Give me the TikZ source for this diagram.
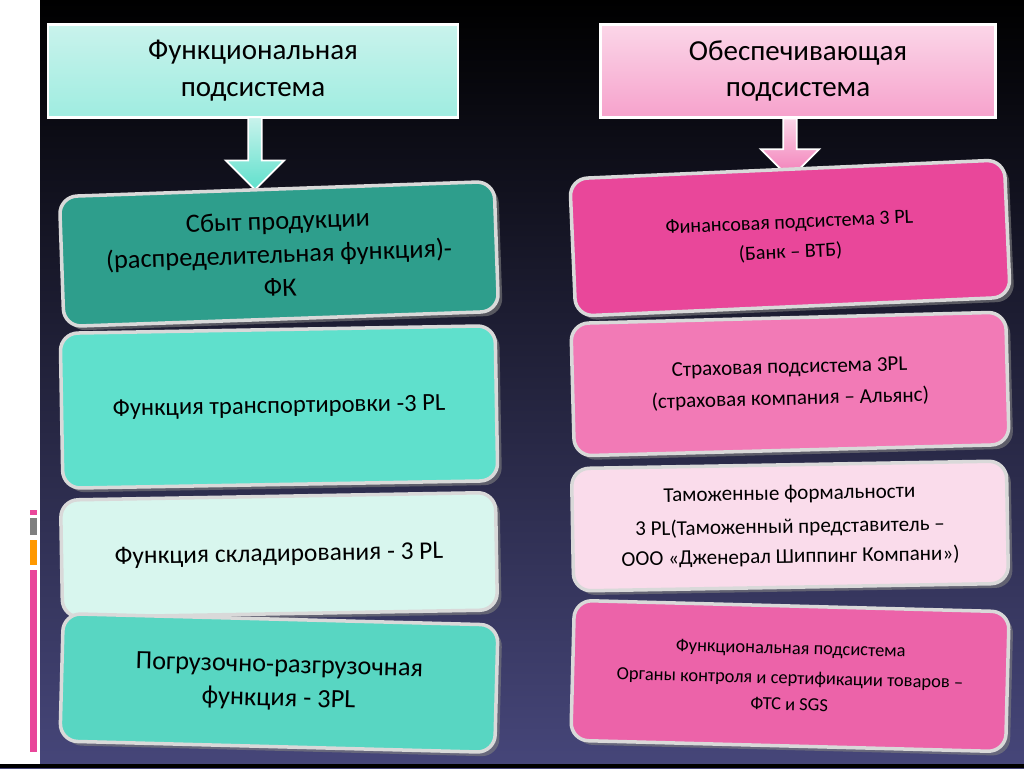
\documentclass[tikz,border=0pt]{standalone}
\usepackage{fontspec}
\setmainfont{Carlito}
\usetikzlibrary{shapes.arrows,shadows}
\definecolor{tealdark}{HTML}{2E9E8C}
\definecolor{teallight}{HTML}{5FE0CC}
\definecolor{mint}{HTML}{D8F6EE}
\definecolor{headcyan}{HTML}{C9F3EC}
\definecolor{pinkdark}{HTML}{E9479A}
\definecolor{pinkmid}{HTML}{F27AB6}
\definecolor{pinklight}{HTML}{FADCEB}
\definecolor{headpink}{HTML}{FBD6E8}
\tikzset{
  head/.style={draw=white, line width=1.5pt, minimum width=8.2cm, minimum height=1.85cm,
    align=center, font=\fontsize{16.5}{21}\selectfont},
  card/.style={draw=white!85!black, line width=2pt, rounded corners=10pt,
    minimum width=8.7cm, align=center, drop shadow={opacity=0.6}},
  downarrow/.style={single arrow, draw=white, line width=1pt, shape border rotate=270,
    single arrow head extend=0.45cm, minimum width=0.9cm, minimum height=1.45cm}
}
\begin{document}
\begin{tikzpicture}[x=0.02cm,y=-0.02cm]
\useasboundingbox (0,0) rectangle (1024,768);
\shade[top color=black, bottom color=black!55!blue!45!gray] (0,0) rectangle (1024,768);
\fill[white] (0,0) rectangle (40,768);
\fill[black] (0,764) rectangle (1024,768);
% side marks
\fill[pinkdark] (30,510) rectangle (37,515);
\fill[gray] (30,518) rectangle (37,535);
\fill[orange!80!yellow] (30,540) rectangle (37,565);
\fill[pinkdark] (30,570) rectangle (37,752);
% headers
\node[head, top color=headcyan, bottom color=teallight!60] (hf) at (253,71)
  {Функциональная\\подсистема};
\node[head, minimum width=7.9cm, top color=headpink, bottom color=pinkmid!70] (ho) at (798,71)
  {Обеспечивающая\\подсистема};
\node[downarrow, top color=headcyan, bottom color=teallight] (af) at (255,150) {};
\node[downarrow, top color=headpink, bottom color=pinkmid, minimum height=1.2cm] (ao) at (790,145) {};
% left column
\node[card, fill=tealdark, minimum height=2.6cm, rotate=2, font=\fontsize{15}{19}\selectfont] (f1) at (279,254)
  {Сбыт продукции\\(распределительная функция)-\\ФК};
\node[card, fill=teallight, minimum height=3.1cm, rotate=1, font=\fontsize{14}{17}\selectfont] (f2) at (279,407)
  {Функция транспортировки -3 PL};
\node[card, fill=mint, minimum height=2.35cm, rotate=1, font=\fontsize{14.5}{18}\selectfont] (f3) at (279,555)
  {Функция складирования - 3 PL};
\node[card, fill=teallight!85!tealdark, minimum height=2.55cm, rotate=-1.5, font=\fontsize{15}{19}\selectfont] (f4) at (279,683)
  {Погрузочно-разгрузочная\\функция - 3PL};
% right column
\node[card, fill=pinkdark, minimum height=2.75cm, rotate=2.5, font=\fontsize{11.5}{17}\selectfont] (o1) at (790,238)
  {Финансовая подсистема 3 PL\\(Банк – ВТБ)};
\node[card, fill=pinkmid, minimum height=2.65cm, rotate=1.5, font=\fontsize{12}{18}\selectfont] (o2) at (790,384)
  {Страховая подсистема 3PL\\(страховая компания – Альянс)};
\node[card, fill=pinklight, minimum height=2.45cm, rotate=1, font=\fontsize{12}{17}\selectfont] (o3) at (790,526)
  {Таможенные формальности\\[2pt]3 PL(Таможенный представитель –\\ООО «Дженерал Шиппинг Компани»)};
\node[card, fill=pinkdark!85!white, minimum height=2.8cm, rotate=-1.5, font=\fontsize{10.5}{15}\selectfont] (o4) at (790,676)
  {Функциональная подсистема\\[2pt]Органы контроля и сертификации товаров –\\ФТС и SGS};
\end{tikzpicture}
\end{document}
